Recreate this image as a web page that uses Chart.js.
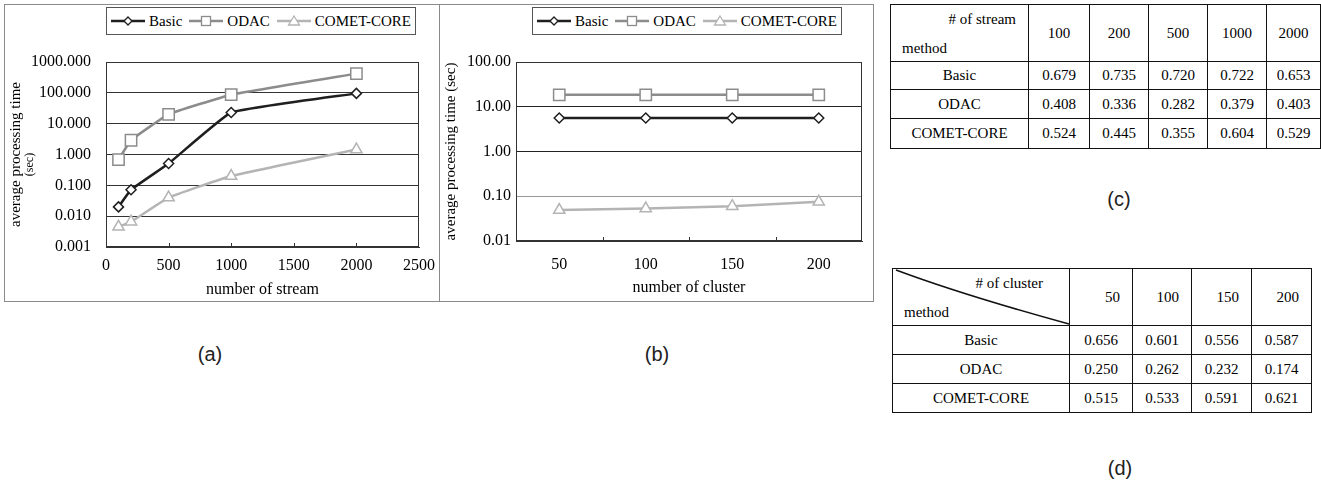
<!DOCTYPE html>
<html>
<head>
<meta charset="utf-8">
<script src="https://cdn.jsdelivr.net/npm/chart.js@4.4.1/dist/chart.umd.min.js"></script>
<style>
body { margin: 0; width: 1321px; height: 482px; background: #fff; position: relative; overflow: hidden;
       font-family: "Liberation Serif", "Times New Roman", serif; color: #000; }
.panel { position: absolute; top: 4px; height: 298px; border: 1px solid #8a8a8a; box-sizing: border-box; }
.legend { position: absolute; top: 7px; height: 28px; box-sizing: border-box; border: 1px solid #555;
          display: flex; align-items: center; padding: 0 4px; font-size: 15px; background: #fff; }
.legend .item { display: flex; align-items: center; margin-right: 7px; }
.legend .item:last-child { margin-right: 0; }
.legend svg { margin-right: 4px; }
canvas { position: absolute; }
.cap { position: absolute; font-family: "Liberation Sans", Arial, sans-serif; font-size: 20px; color: #222;
       transform: translate(-50%, -50%); }
table { position: absolute; border-collapse: collapse; table-layout: fixed; font-size: 15px; }
td { border: 1px solid #111; text-align: center; padding: 0; }
td.head { position: relative; }
td.head .top { position: absolute; top: 6px; }
td.head .bot { position: absolute; left: 11px; bottom: 4px; }
td.head svg { position: absolute; left: 0; top: 0; }
</style>
</head>
<body>

<div class="panel" style="left:4px;width:436px"></div>
<div class="panel" style="left:439px;width:435px"></div>
<div class="legend" id="legendA" style="left:106px"></div>
<div class="legend" id="legendB" style="left:532px"></div>
<canvas id="chartA" width="434" height="260" style="left:5px;top:40px"></canvas>
<canvas id="chartB" width="433" height="260" style="left:440px;top:40px"></canvas>

<table id="tableC" style="left:890px;top:4px"></table>
<table id="tableD" style="left:892px;top:268px"></table>

<div class="cap" style="left:210px;top:354px">(a)</div>
<div class="cap" style="left:657px;top:354px">(b)</div>
<div class="cap" style="left:1119px;top:199px">(c)</div>
<div class="cap" style="left:1120px;top:468px">(d)</div>

<script>
// Methods compared
const methods = ['Basic', 'ODAC', 'COMET-CORE'];

// (a) processing time vs number of streams (sec)
const streamCounts = [100, 200, 500, 1000, 2000];
const basicTimeA = [0.02, 0.072, 0.51, 23, 96];
const odacTimeA  = [0.68, 2.9, 20, 87, 420];
const cometTimeA = [0.0045, 0.0066, 0.04, 0.2, 1.45];
const yTicksA = [0.001, 0.01, 0.1, 1, 10, 100, 1000];

// (b) processing time vs number of clusters
const clusterCounts = ['50', '100', '150', '200'];
const basicTimeB = [5.6, 5.6, 5.6, 5.6];
const odacTimeB  = [18.5, 18.5, 18.5, 18.5];
const cometTimeB = [0.049, 0.053, 0.060, 0.075];
const yTicksB = [0.01, 0.1, 1, 10, 100];

// (c) table: by number of stream
const streamHeader = ['100', '200', '500', '1000', '2000'];
const basicC = ['0.679', '0.735', '0.720', '0.722', '0.653'];
const odacC  = ['0.408', '0.336', '0.282', '0.379', '0.403'];
const cometC = ['0.524', '0.445', '0.355', '0.604', '0.529'];

// (d) table: by number of cluster
const clusterHeader = ['50', '100', '150', '200'];
const basicD = ['0.656', '0.601', '0.556', '0.587'];
const odacD  = ['0.250', '0.262', '0.232', '0.174'];
const cometD = ['0.515', '0.533', '0.591', '0.621'];

const serif = '"Liberation Serif", "Times New Roman", serif';
const ink = '#000';

// look of each series: colour, marker, marker radius
const looks = [
    {color: '#1f1f1f', style: 'rectRot', r: 5},
    {color: '#8c8c8c', style: 'rect', r: 8},
    {color: '#b4b4b4', style: 'triangle', r: 6.5}
];

function makeDatasets(seriesList, xs) {
    return seriesList.map((vals, i) => ({
        label: methods[i],
        data: xs ? vals.map((v, j) => ({x: xs[j], y: v})) : vals,
        borderColor: looks[i].color,
        borderWidth: 2.5,
        pointStyle: looks[i].style,
        pointRadius: looks[i].r,
        pointBackgroundColor: '#fff',
        pointBorderColor: looks[i].color,
        pointBorderWidth: 1.5,
        fill: false
    }));
}

// frame around the plot area + small tick marks pointing inward from the x axis
const framePlugin = {
    id: 'frame',
    beforeDatasetsDraw(chart, args, opts) {
        const {ctx, chartArea: a, scales: {x}} = chart;
        ctx.save();
        ctx.strokeStyle = '#333';
        ctx.lineWidth = 1;
        ctx.strokeRect(Math.round(a.left) + 0.5, Math.round(a.top) + 0.5,
                       Math.round(a.width) - 1, Math.round(a.height) - 1);
        let marks = [];
        if (opts.between) {
            for (let i = 0; i < x.ticks.length - 1; i++)
                marks.push((x.getPixelForTick(i) + x.getPixelForTick(i + 1)) / 2);
        } else {
            for (let i = 1; i < x.ticks.length - 1; i++) marks.push(x.getPixelForTick(i));
        }
        ctx.beginPath();
        marks.forEach(px => {
            ctx.moveTo(Math.round(px) + 0.5, a.bottom);
            ctx.lineTo(Math.round(px) + 0.5, a.bottom - 4);
        });
        ctx.stroke();
        ctx.restore();
    }
};

// second, smaller line of the y-axis title in (a)
const secPlugin = {
    id: 'secLabel',
    afterDraw(chart, args, opts) {
        if (!opts.text) return;
        const {ctx, scales: {y}} = chart;
        ctx.save();
        ctx.translate(y.left + 25, (y.top + y.bottom) / 2 + 10);
        ctx.rotate(-Math.PI / 2);
        ctx.font = '12px ' + serif;
        ctx.fillStyle = ink;
        ctx.textAlign = 'center';
        ctx.textBaseline = 'middle';
        ctx.fillText(opts.text, 0, 0);
        ctx.restore();
    }
};

function tickFont(size) { return {family: serif, size: size}; }

// Chart (a)
new Chart(document.getElementById('chartA'), {
    type: 'line',
    data: {datasets: makeDatasets([basicTimeA, odacTimeA, cometTimeA], streamCounts)},
    options: {
        responsive: false,
        animation: false,
        layout: {padding: {left: 0, right: 20, top: 22, bottom: 0}},
        elements: {line: {tension: 0.1}},
        plugins: {legend: {display: false}, tooltip: {enabled: false},
                  frame: {between: false}, secLabel: {text: '(sec)'}},
        scales: {
            x: {
                type: 'linear', min: 0, max: 2500,
                ticks: {stepSize: 500, padding: 9, color: ink, font: tickFont(16), maxRotation: 0,
                        callback: v => String(v)},
                grid: {drawOnChartArea: false, drawTicks: false},
                border: {color: '#333'},
                title: {display: true, text: 'number of stream', color: ink, font: tickFont(16), padding: {top: 0, bottom: 1}},
                afterFit(s) { s.height = 53; s.paddingLeft = 0; s.paddingRight = 0; }
            },
            y: {
                type: 'logarithmic', min: 0.001, max: 1000,
                afterBuildTicks(s) { s.ticks = yTicksA.map(v => ({value: v})); },
                ticks: {callback: v => Number(v).toFixed(3), padding: 15, color: ink, font: tickFont(16)},
                grid: {color: '#333', drawTicks: false},
                border: {color: '#333'},
                title: {display: true, text: 'average processing time', color: ink, font: tickFont(15), padding: {top: 2, bottom: 0}},
                afterFit(s) { s.width = 101; s.paddingTop = 0; s.paddingBottom = 0; }
            }
        }
    },
    plugins: [framePlugin, secPlugin]
});

// Chart (b)
new Chart(document.getElementById('chartB'), {
    type: 'line',
    data: {labels: clusterCounts, datasets: makeDatasets([basicTimeB, odacTimeB, cometTimeB])},
    options: {
        responsive: false,
        animation: false,
        layout: {padding: {left: 0, right: 11, top: 22, bottom: 0}},
        plugins: {legend: {display: false}, tooltip: {enabled: false}, frame: {between: true}},
        scales: {
            x: {
                type: 'category', offset: true,
                ticks: {padding: 14, color: ink, font: tickFont(16), maxRotation: 0},
                grid: {drawOnChartArea: false, drawTicks: false, offset: true},
                border: {color: '#333'},
                title: {display: true, text: 'number of cluster', color: ink, font: tickFont(16), padding: {top: 0, bottom: 3}},
                afterFit(s) { s.height = 59; s.paddingLeft = 0; s.paddingRight = 0; }
            },
            y: {
                type: 'logarithmic', min: 0.01, max: 100,
                afterBuildTicks(s) { s.ticks = yTicksB.map(v => ({value: v})); },
                ticks: {callback: v => Number(v).toFixed(2), padding: 5, color: ink, font: tickFont(16)},
                grid: {color: ctx => (ctx.tick && ctx.tick.value === 0.1 ? '#999' : '#222'), drawTicks: false},
                border: {color: '#333'},
                title: {display: true, text: 'average processing time (sec)', color: ink, font: tickFont(15), padding: {top: 2, bottom: 0}},
                afterFit(s) { s.width = 76; s.paddingTop = 0; s.paddingBottom = 0; }
            }
        }
    },
    plugins: [framePlugin]
});

// HTML legends (line with marker, like the original)
function markerSvg(i) {
    const c = looks[i].color;
    let m;
    if (i === 0) m = `<polygon points="17,2 21,6 17,10 13,6" fill="#fff" stroke="${c}" stroke-width="1.3"/>`;
    else if (i === 1) m = `<rect x="12.5" y="1.5" width="9" height="9" fill="#fff" stroke="${c}" stroke-width="1.3"/>`;
    else m = `<polygon points="17,1 22.5,10 11.5,10" fill="#fff" stroke="${c}" stroke-width="1.3"/>`;
    return `<svg width="34" height="12"><line x1="0" y1="6" x2="34" y2="6" stroke="${c}" stroke-width="2.5"/>${m}</svg>`;
}
['legendA', 'legendB'].forEach(id => {
    document.getElementById(id).innerHTML = methods.map((name, i) =>
        `<span class="item">${markerSvg(i)}<span>${name}</span></span>`).join('');
});

// Tables
function buildTable(el, header, rows, widths, heights, headLabel, diag) {
    let html = '<colgroup>' + widths.map(w => `<col style="width:${w}px">`).join('') + '</colgroup>';
    const diagSvg = diag
        ? `<svg width="${widths[0]}" height="${heights[0]}"><path d="M3,1 Q70,26 ${widths[0] - 1},${heights[0] - 2}" fill="none" stroke="#111" stroke-width="1.5"/></svg>`
        : '';
    html += `<tr style="height:${heights[0]}px"><td class="head">${diagSvg}` +
            `<span class="top" style="right:${diag ? 26 : 12}px">${headLabel}</span><span class="bot">method</span></td>` +
            header.map(h => `<td style="${diag ? 'text-align:right;padding-right:12px' : ''}">${h}</td>`).join('') + '</tr>';
    rows.forEach((r, k) => {
        html += `<tr style="height:${heights[k + 1]}px"><td>${methods[k]}</td>` + r.map(v => `<td>${v}</td>`).join('') + '</tr>';
    });
    el.innerHTML = html;
}
buildTable(document.getElementById('tableC'), streamHeader, [basicC, odacC, cometC],
           [138, 61, 59, 59, 59, 54], [57, 28, 29, 30], '# of stream', false);
buildTable(document.getElementById('tableD'), clusterHeader, [basicD, odacD, cometD],
           [177, 63, 59, 60, 60], [57, 29, 29, 29], '# of cluster', true);
</script>
</body>
</html>
